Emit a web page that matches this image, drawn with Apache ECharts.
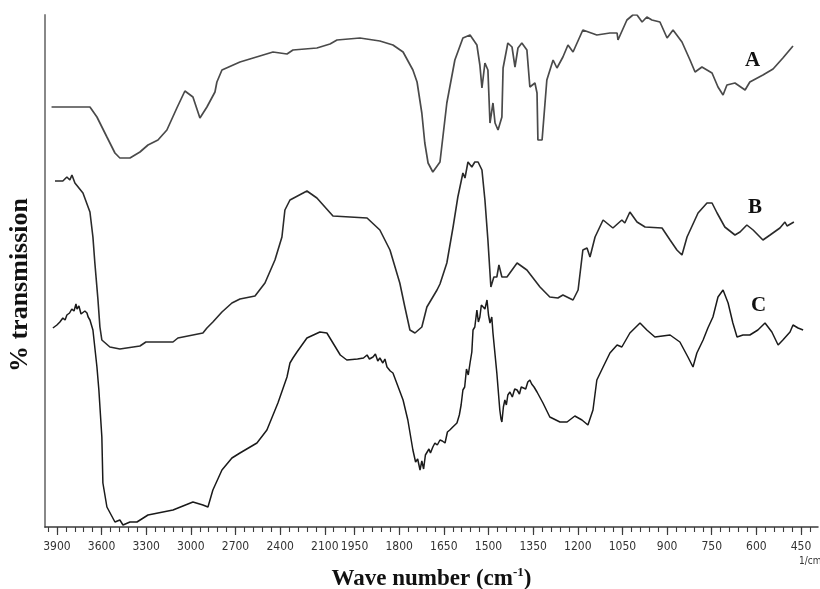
<!DOCTYPE html>
<html>
<head>
<meta charset="utf-8">
<script src="https://cdn.jsdelivr.net/npm/echarts@6/dist/echarts.min.js"></script>
<style>html,body{margin:0;padding:0;background:#fff}#c{width:820px;height:589px}</style>
</head>
<body>
<div id="c"></div>
<script>
// ---- Data (wavenumber in cm-1, relative % transmission, curves offset) ----
const waveA = [3936,3678,3631,3564,3510,3477,3409,3342,3288,3221,3161,3094,3040,2986,2939,2892,2838,2825,2791,2670,2448,2354,2314,2153,2065,2018,1932,1865,1821,1787,1754,1740,1724,1714,1703,1687,1663,1640,1613,1586,1562,1539,1529,1522,1512,1502,1495,1485,1478,1468,1455,1451,1435,1421,1411,1401,1388,1371,1361,1344,1337,1334,1320,1304,1283,1270,1250,1233,1216,1183,1136,1092,1068,1065,1035,1015,1001,984,968,951,924,900,880,850,823,806,783,749,729,712,699,672,638,622,578,544,511,477];
const transA = [420,420,410,390,374,369,369,375,382,387,397,419,436,430,409,420,435,445,457,465,475,473,477,479,483,487,489,486,482,475,457,445,414,384,364,355,365,424,467,489,492,482,462,439,464,457,404,424,404,397,410,459,484,480,460,479,484,477,440,444,434,387,387,447,467,459,470,482,475,497,492,494,494,487,507,512,512,505,510,507,505,489,497,485,467,455,460,454,440,432,442,444,437,445,452,458,469,481];

const waveB = [3913,3860,3833,3813,3799,3779,3766,3725,3678,3658,3645,3624,3611,3598,3544,3477,3342,3302,3120,3087,2919,2892,2852,2791,2724,2670,2569,2502,2435,2388,2368,2334,2220,2153,2045,1908,1865,1831,1798,1781,1764,1747,1724,1707,1673,1663,1640,1619,1603,1586,1579,1569,1556,1546,1535,1522,1512,1502,1492,1482,1472,1465,1455,1438,1404,1371,1327,1294,1267,1250,1216,1199,1183,1169,1159,1142,1115,1082,1052,1042,1025,1001,974,917,890,867,850,833,796,766,749,732,706,672,655,632,611,578,554,521,504,497,474];
const transB = [346,346,350,347,352,344,345,334,315,290,264,227,200,187,180,178,181,185,185,189,194,199,205,215,224,228,231,244,267,290,317,327,336,329,311,309,297,277,244,220,197,194,200,220,237,243,264,300,330,354,349,365,360,365,365,357,327,287,240,250,250,262,250,250,264,257,240,230,229,232,227,237,277,279,270,290,307,299,307,304,315,305,300,299,287,277,272,290,314,324,324,314,300,292,295,302,297,287,292,299,305,301,305];

const waveC = [3927,3900,3880,3860,3845,3833,3815,3800,3792,3785,3779,3772,3765,3759,3752,3745,3738,3725,3712,3698,3690,3678,3670,3658,3631,3618,3598,3591,3564,3510,3477,3456,3409,3362,3288,3120,2986,2919,2885,2852,2791,2724,2670,2556,2489,2415,2354,2334,2314,2287,2220,2133,2086,1998,1976,1940,1920,1908,1900,1888,1880,1872,1865,1855,1848,1841,1830,1821,1787,1771,1754,1745,1738,1730,1724,1718,1712,1707,1700,1695,1687,1680,1672,1663,1655,1646,1638,1630,1620,1606,1598,1592,1586,1580,1574,1568,1562,1556,1552,1546,1539,1534,1529,1524,1519,1512,1505,1500,1495,1489,1485,1472,1462,1458,1455,1450,1445,1440,1435,1428,1420,1412,1404,1396,1390,1384,1375,1368,1361,1355,1347,1337,1317,1294,1260,1236,1210,1186,1166,1149,1136,1115,1092,1068,1052,1025,991,968,941,890,857,830,813,800,779,763,746,729,712,695,679,665,645,622,595,571,548,527,511,487,477,460,443];
const transC = [199,202,205,209,207,212,214,218,220,216,215,223,218,217,221,222,213,215,216,214,210,207,203,197,160,137,90,44,20,5,7,2,5,5,12,17,25,22,20,37,57,69,74,84,97,124,150,164,169,175,189,195,194,172,167,168,169,172,168,170,173,166,169,164,168,160,156,154,127,107,77,65,68,57,66,58,72,70,78,74,80,84,82,87,86,84,95,97,100,104,112,122,137,140,158,152,164,175,197,200,217,205,210,222,224,218,227,212,204,210,194,154,117,108,105,120,127,122,132,135,130,138,137,133,140,142,138,145,147,143,140,135,124,110,105,105,111,107,102,117,147,160,174,182,180,194,204,197,190,192,185,170,160,174,187,199,210,230,237,224,204,190,192,192,197,204,195,182,187,195,202,199,197];

// tick labels (cm-1)
const majorTicks = [3900,3600,3300,3000,2700,2400,2100,1950,1800,1650,1500,1350,1200,1050,900,750,600,450];
const curveLabels = ['A','B','C'];

// Instrument x-scale: expanded (x2) below 2000 cm-1
function toAxis(w){ return w <= 2000 ? w : 2000 + (w - 2000) / 2; }
function fromAxis(t){ return t <= 2000 ? t : 2000 + 2 * (t - 2000); }

const minorTicks = [];
for (let w = 420; w <= 1980; w += 30) minorTicks.push(toAxis(w));
for (let w = 2040; w <= 3960; w += 60) minorTicks.push(toAxis(w));

function pts(ws, vs){ return ws.map((w,i)=>[toAxis(w), vs[i]]); }

const chart = echarts.init(document.getElementById('c'), null, {renderer:'canvas'});
const xMin = 393, xMax = 2990;
const labelFont = "'Liberation Sans Narrow','DejaVu Sans Condensed','Arial Narrow',sans-serif";
const serif = "'Liberation Serif','Times New Roman',serif";

chart.setOption({
  animation: false,
  backgroundColor: '#fff',
  grid: {left: 45, right: 2, top: 15, bottom: 62, containLabel: false, outerBoundsMode: 'none'},
  xAxis: [{
    type: 'value', inverse: true, min: xMin, max: xMax,
    axisLine: {show: true, lineStyle: {color: '#3a3a3a', width: 1.5}},
    axisTick: {show: true, length: 8, lineStyle: {color: '#3a3a3a', width: 1.2}, customValues: majorTicks.map(toAxis)},
    axisLabel: {show: true, customValues: majorTicks.map(toAxis), margin: 14, color: '#333', fontSize: 12, fontFamily: labelFont,
      formatter: v => String(Math.round(fromAxis(v)))},
    splitLine: {show: false},
    name: '{a|Wave number (cm}{s|-1}{a|)}', nameLocation: 'middle', nameGap: 39,
    nameTextStyle: {rich: {
      a: {fontFamily: serif, fontWeight: 'bold', fontSize: 23, color: '#111', lineHeight: 26},
      s: {fontFamily: serif, fontWeight: 'bold', fontSize: 13, color: '#111', lineHeight: 26, verticalAlign: 'top', padding: [0,0,11,0]}
    }}
  },{
    type: 'value', inverse: true, min: xMin, max: xMax, position: 'bottom',
    axisLine: {show: false},
    axisTick: {show: true, length: 5, lineStyle: {color: '#3a3a3a', width: 1.1}, customValues: minorTicks},
    axisLabel: {show: false}, splitLine: {show: false}
  }],
  yAxis: {
    type: 'value', min: 0, max: 512,
    axisLine: {show: true, lineStyle: {color: '#888', width: 2}},
    axisTick: {show: false}, axisLabel: {show: false}, splitLine: {show: false},
    name: '% transmission', nameLocation: 'middle', nameGap: 12, nameRotate: 90,
    nameTextStyle: {fontFamily: serif, fontWeight: 'bold', fontSize: 26, color: '#111', padding: [0, 28, 0, 0]}
  },
  series: [
    {name: 'A', type: 'line', data: pts(waveA, transA), showSymbol: false, lineStyle: {color: '#4a4a4a', width: 1.7}},
    {name: 'B', type: 'line', data: pts(waveB, transB), showSymbol: false, lineStyle: {color: '#2a2a2a', width: 1.6}},
    {name: 'C', type: 'line', data: pts(waveC, transC), showSymbol: false, lineStyle: {color: '#1a1a1a', width: 1.5}}
  ],
  graphic: [
    {type: 'text', left: 745, top: 50, style: {text: curveLabels[0], font: "bold 21px 'Liberation Serif', serif", fill: '#111'}},
    {type: 'text', left: 748, top: 197, style: {text: curveLabels[1], font: "bold 21px 'Liberation Serif', serif", fill: '#111'}},
    {type: 'text', left: 751, top: 295, style: {text: curveLabels[2], font: "bold 21px 'Liberation Serif', serif", fill: '#111'}},
    {type: 'text', left: 799, top: 556, style: {text: '1/cm', font: "10px 'Liberation Sans Narrow','DejaVu Sans Condensed',sans-serif", fill: '#333'}}
  ]
});
</script>
</body>
</html>
